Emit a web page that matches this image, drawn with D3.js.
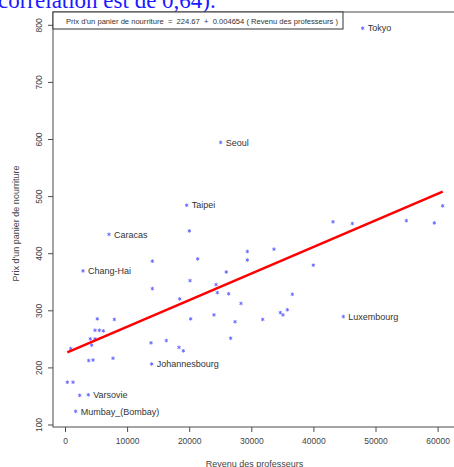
<!DOCTYPE html>
<html>
<head>
<meta charset="utf-8">
<script src="https://cdn.jsdelivr.net/npm/d3@7"></script>
<style>
  html, body { margin: 0; padding: 0; background: #fff; overflow: hidden; }
  svg { display: block; }
</style>
</head>
<body>
<svg id="chart" width="454" height="467"></svg>
<script>
// ---- data ----
const cityNames = ["Tokyo", "Seoul", "Taipei", "Caracas", "Chang-Hai", "Luxembourg", "Johannesbourg", "Varsovie", "Mumbay_(Bombay)"];
const cityRevenu = [47940, 25070, 19600, 7085, 2900, 44815, 13960, 3750, 1720];
const cityPrix = [794, 594, 484, 433, 369, 289, 206, 152, 123];

const otherRevenu = [20020, 14060, 20130, 14060, 18470, 5200, 7940, 4830, 5520, 6170, 4070, 4830, 4300, 920,
  20240, 13850, 16310, 18360, 19050, 3820, 4510, 7730, 370, 1290, 2370, 21370, 29360, 33650, 29360, 39980,
  25970, 24320, 24530, 26360, 36600, 28340, 23990, 27380, 31840, 34670, 35100, 35800, 26680, 43160, 46260,
  54960, 59470, 60820];
const otherPrix = [439, 386, 352, 338, 320, 285, 284, 265, 265, 264, 250, 250, 239, 233,
  285, 243, 247, 235, 229, 212, 213, 216, 174, 174, 151, 390, 403, 407, 388, 379,
  367, 345, 331, 329, 328, 312, 292, 280, 284, 296, 292, 301, 251, 455, 452,
  457, 453, 483];

const intercept = 224.67;
const slope = 0.004654;
const equationText = "Prix d'un panier de nourriture  =  224.67  +  0.004654 ( Revenu des professeurs )";
const xTicks = [0, 10000, 20000, 30000, 40000, 50000, 60000];
const yTicks = [100, 200, 300, 400, 500, 600, 700, 800];
const xTitle = "Revenu des professeurs";
const yTitle = "Prix d'un panier de nourriture";
const topText = "corrélation est de 0,64).";

// ---- layout ----
const box = { left: 53, right: 458, top: 12, bottom: 427 };
const svg = d3.select("#chart");
const x = d3.scaleLinear().domain([0, 60000]).range([65, 437.6]);
const y = d3.scaleLinear().domain([100, 800]).range([424.5, 24.8]);
const axisColor = "#4a4a4a";
const textColor = "#444";
const font = "'Liberation Sans', Arial, sans-serif";

// cropped text at top
svg.append("text")
  .attr("x", -2).attr("y", 8)
  .attr("font-family", "'Liberation Serif', 'Times New Roman', serif")
  .attr("font-size", 23)
  .attr("fill", "#1a1aff")
  .text(topText);

// plot frame
svg.append("rect")
  .attr("x", box.left).attr("y", box.top)
  .attr("width", box.right - box.left).attr("height", box.bottom - box.top)
  .attr("fill", "none").attr("stroke", axisColor).attr("stroke-width", 1);

// y axis
const yAxis = d3.axisLeft(y).tickValues(yTicks).tickSize(5).tickPadding(3).tickFormat(d3.format("d"));
const gy = svg.append("g").attr("transform", `translate(${box.left},0)`).call(yAxis);
gy.select(".domain").remove();
gy.selectAll(".tick line").attr("stroke", axisColor);
gy.selectAll(".tick text")
  .attr("font-family", font).attr("font-size", 8.5).attr("fill", textColor)
  .attr("text-anchor", "middle")
  .attr("x", null).attr("dy", null)
  .attr("transform", "translate(-11,0) rotate(-90)");

// x axis
const xAxis = d3.axisBottom(x).tickValues(xTicks).tickSize(5).tickPadding(6).tickFormat(d3.format("d"));
const gx = svg.append("g").attr("transform", `translate(0,${box.bottom})`).call(xAxis);
gx.select(".domain").remove();
gx.selectAll(".tick line").attr("stroke", axisColor);
gx.selectAll(".tick text")
  .attr("font-family", font).attr("font-size", 8.5).attr("fill", textColor);

// axis titles
svg.append("text")
  .attr("x", (box.left + box.right) / 2 - 1).attr("y", 466.5)
  .attr("text-anchor", "middle")
  .attr("font-family", font).attr("font-size", 9).attr("fill", textColor)
  .text(xTitle);
svg.append("text")
  .attr("transform", `translate(19,${(box.top + box.bottom) / 2 + 4}) rotate(-90)`)
  .attr("text-anchor", "middle")
  .attr("font-family", font).attr("font-size", 9).attr("fill", textColor)
  .text(yTitle);

// points
const allRevenu = cityRevenu.concat(otherRevenu);
const allPrix = cityPrix.concat(otherPrix);
const pts = allRevenu.map((r, i) => ({ r, p: allPrix[i] }));
const sym = d3.symbol().type(d3.symbolAsterisk).size(9);
svg.append("g").selectAll("path").data(pts).join("path")
  .attr("d", sym)
  .attr("transform", d => `translate(${x(d.r)},${y(d.p)})`)
  .attr("fill", "none").attr("stroke", "#6a6aff").attr("stroke-width", 1);

// city labels
svg.append("g").selectAll("text").data(cityNames).join("text")
  .attr("x", (d, i) => x(cityRevenu[i]) + 5)
  .attr("y", (d, i) => y(cityPrix[i]))
  .attr("dy", "0.35em")
  .attr("font-family", font).attr("font-size", 9).attr("fill", "#333")
  .text(d => d);

// regression line
const [xmin, xmax] = d3.extent(allRevenu);
svg.append("line")
  .attr("x1", x(xmin)).attr("y1", y(intercept + slope * xmin))
  .attr("x2", x(xmax)).attr("y2", y(intercept + slope * xmax))
  .attr("stroke", "#ff0000").attr("stroke-width", 2.5);

// equation legend box
const eqG = svg.append("g");
eqG.append("rect")
  .attr("x", box.left).attr("y", box.top)
  .attr("width", 290).attr("height", 17)
  .attr("fill", "#fff").attr("stroke", "#333").attr("stroke-width", 1);
eqG.append("text")
  .attr("x", 66).attr("y", 23.5)
  .attr("font-family", font).attr("font-size", 7).attr("fill", "#333")
  .style("white-space", "pre")
  .attr("textLength", 272).attr("lengthAdjust", "spacingAndGlyphs")
  .text(equationText);
</script>
</body>
</html>
